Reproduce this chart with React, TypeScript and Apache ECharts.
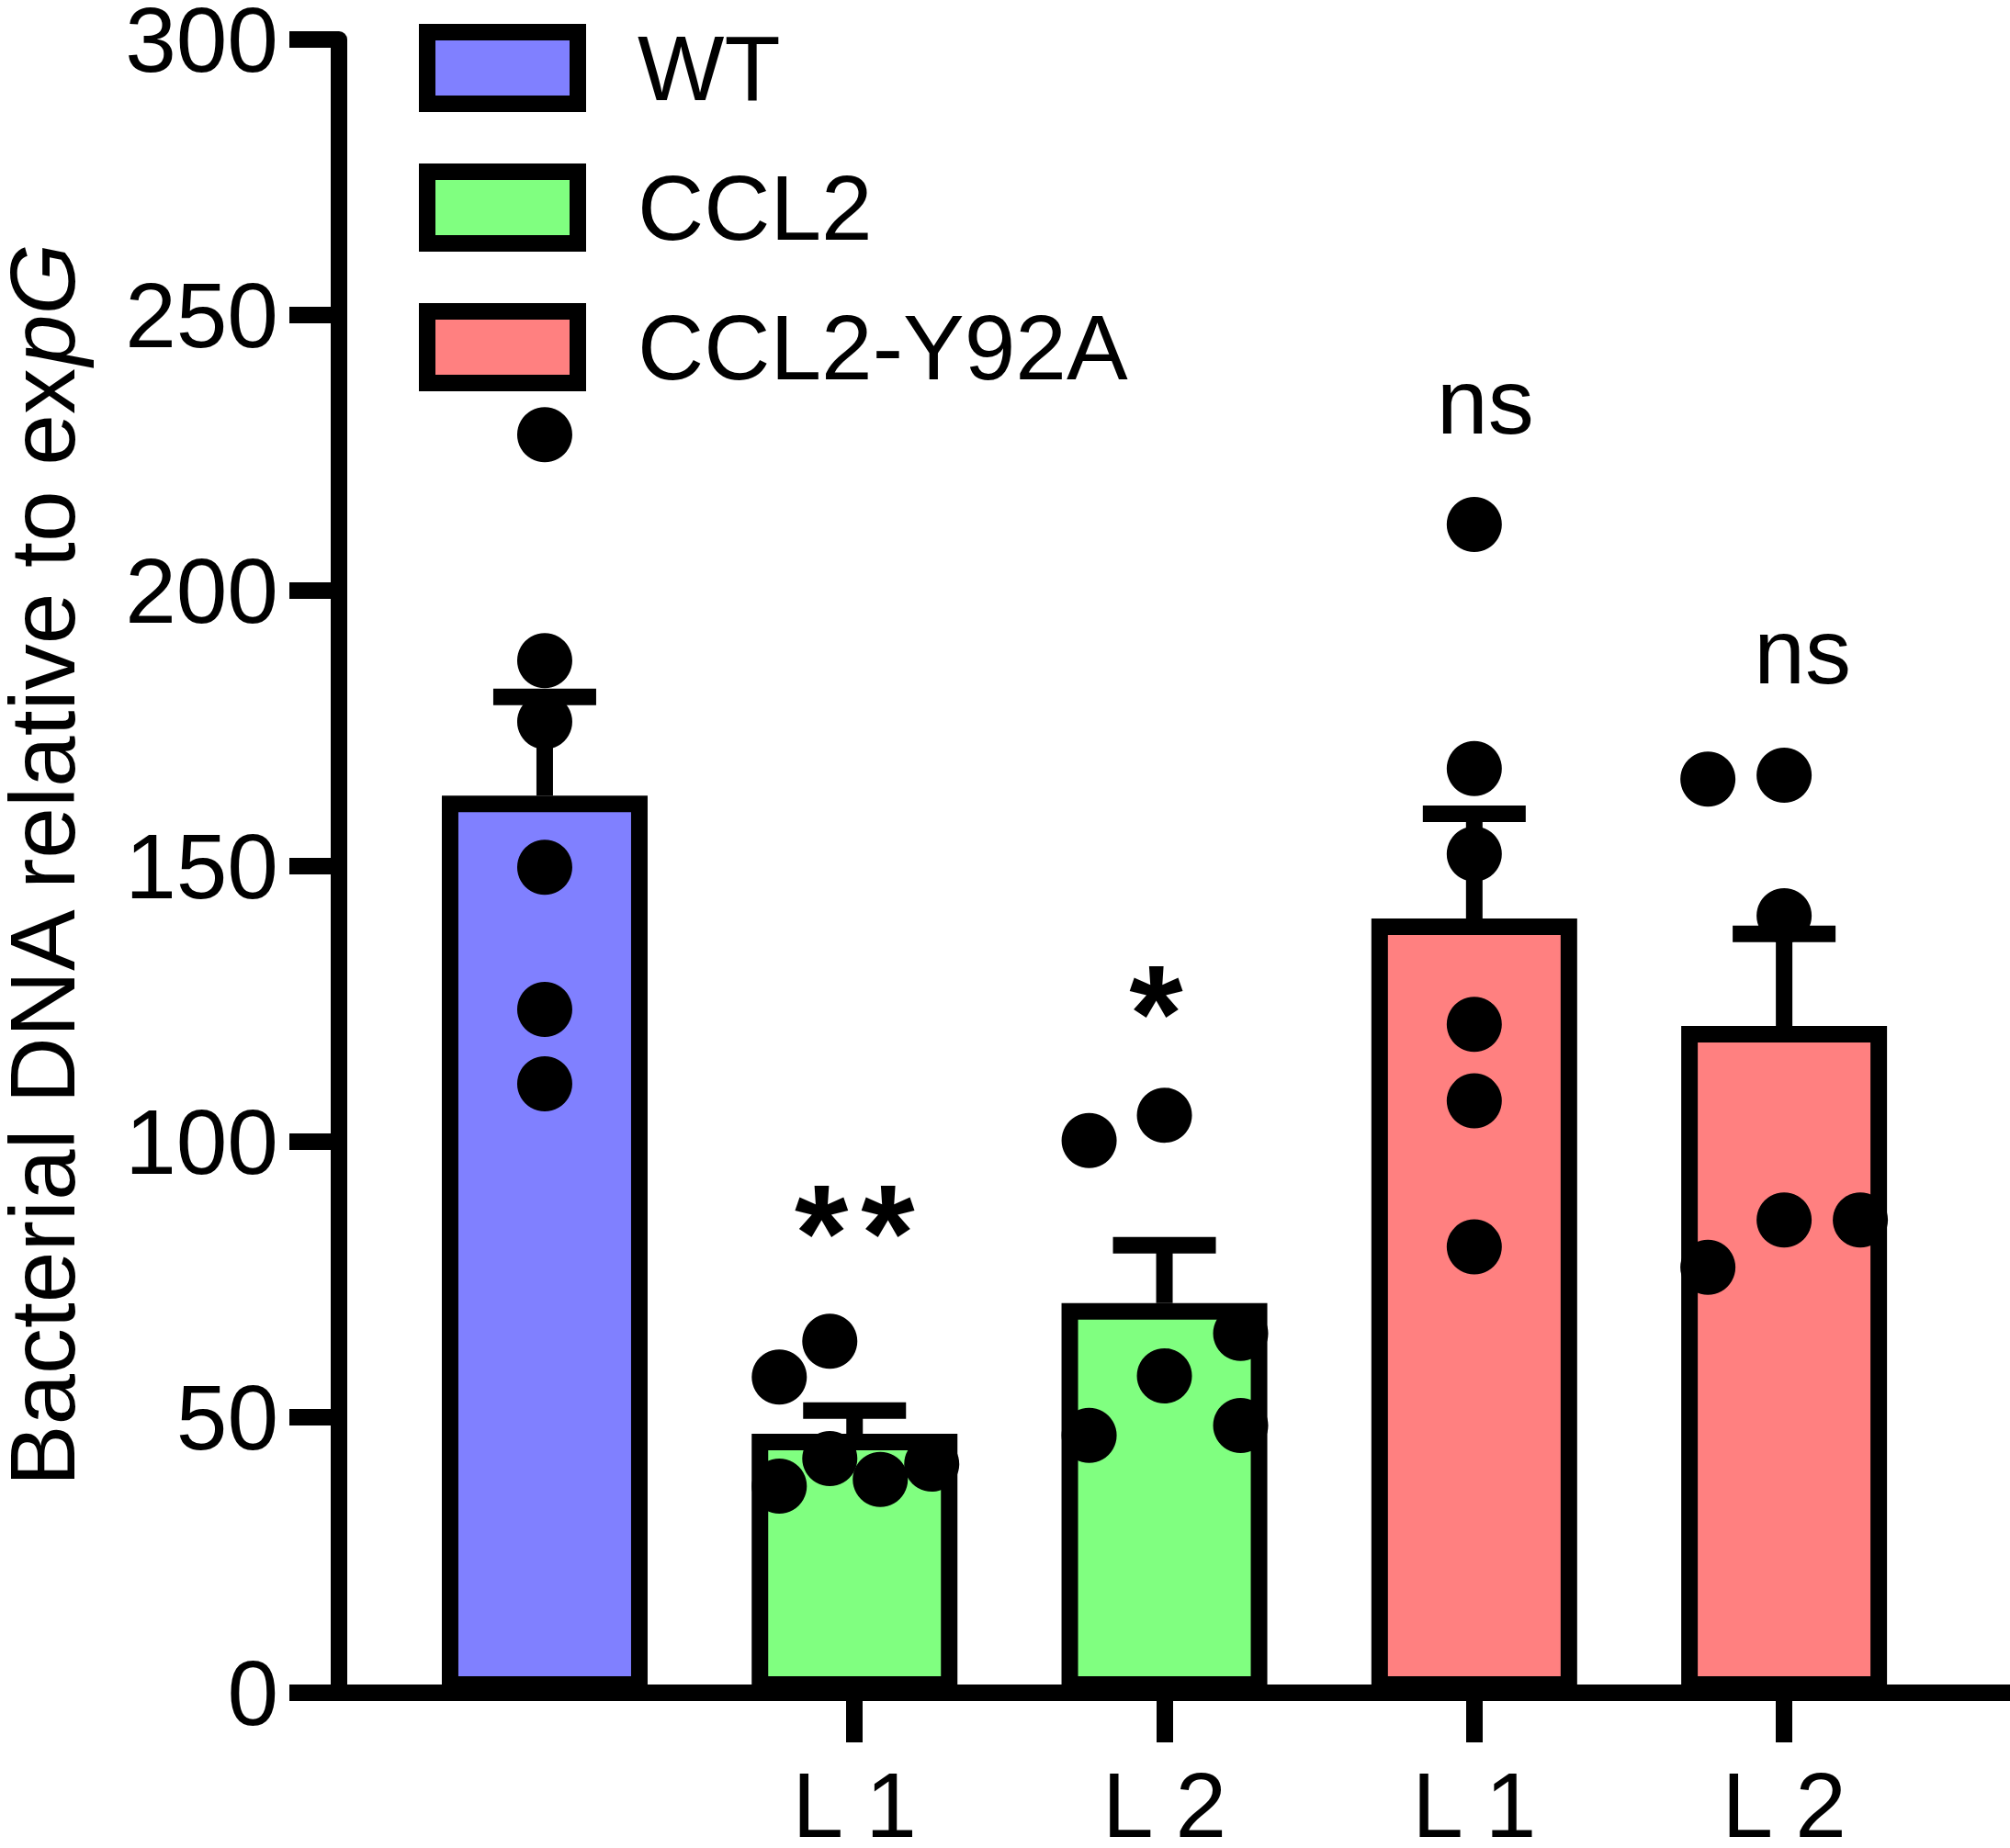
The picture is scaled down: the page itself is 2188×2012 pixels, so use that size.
import React, { useEffect, useRef } from 'react';
import * as echarts from 'echarts';

const FONT = 'Liberation Sans, Arial, Helvetica, sans-serif';

// group names and colours
const groupNames = ['WT', 'CCL2', 'CCL2-Y92A'];
const groupColors = ['#8080ff', '#80ff80', '#ff8080'];

// bar positions (x index), group membership, x tick labels
const barX = [0, 1, 2, 3, 4];
const barGroup = [0, 1, 1, 2, 2];
const xTickLabels = ['', 'L 1', 'L 2', 'L 1', 'L 2'];
const xTickValues = [1, 2, 3, 4];

// bar heights and upper error (SEM)
const barMeans = [162.8, 47.0, 70.7, 140.5, 121.0];
const barErrTop = [180.7, 51.2, 81.2, 159.5, 137.7];

// individual points per bar
const dotValues = [
  [228.3, 187.3, 176.2, 149.8, 124.0, 110.5],
  [57.3, 63.8, 37.5, 42.5, 38.7, 41.5],
  [100.2, 104.8, 46.7, 57.5, 65.2, 48.5],
  [212.0, 167.7, 152.2, 121.3, 107.4, 80.9],
  [165.8, 166.5, 141.0, 77.2, 85.8, 85.8],
];
// horizontal scatter of the points (in bar units)
const dotJitter = [
  [0, 0, 0, 0, 0, 0],
  [-0.243, -0.08, -0.243, -0.08, 0.083, 0.249],
  [-0.243, 0, -0.243, 0, 0.246, 0.246],
  [0, 0, 0, 0, 0, 0],
  [-0.246, 0, 0, -0.246, 0, 0.246],
];

// significance annotations
const sigLabels = ['', '**', '*', 'ns', 'ns'];
const sigY = [0, 83.3, 123.1, 234.4, 189.0];
const sigDx = [0, 0, -9, 12, 20];

// y axis
const yMin = 0;
const yMax = 300;
const yInterval = 50;

export default function App() {
  const ref = useRef<HTMLDivElement>(null);

  useEffect(() => {
    document.body.style.margin = '0';
    const chart = echarts.init(ref.current!, null, { renderer: 'svg' });

    const barSeries = groupNames.map((name, g) => ({
      type: 'bar',
      name,
      data: barX.filter((i) => barGroup[i] === g).map((i) => [barX[i], barMeans[i]]),
      barWidth: 224,
      barGap: '-100%',
      itemStyle: { color: groupColors[g], borderColor: '#000', borderWidth: 18 },
      z: 2,
      silent: true,
    }));

    const dots: number[][] = [];
    barX.forEach((x, i) => {
      dotValues[i].forEach((v, j) => dots.push([x + dotJitter[i][j], v]));
    });

    const sigData = barX
      .filter((i) => sigLabels[i] !== '')
      .map((i) => {
        const isStar = sigLabels[i].startsWith('*');
        return {
          value: [barX[i], sigY[i]],
          label: isStar
            ? {
                formatter: sigLabels[i].split('').map(() => '{s|*}').join(''),
                offset: [sigDx[i], 0],
                rich: {
                  s: {
                    fontSize: 150,
                    fontWeight: 'bold',
                    fontFamily: FONT,
                    color: '#000',
                    padding: [0, 7, 0, 7],
                  },
                },
              }
            : {
                formatter: sigLabels[i],
                fontSize: 100,
                fontFamily: FONT,
                color: '#000',
                offset: [sigDx[i], 0],
              },
        };
      });

    const option: any = {
      animation: false,
      backgroundColor: '#fff',
      grid: { left: 369, right: 0, top: 43, bottom: 169, containLabel: false, outerBoundsMode: 'none' },
      legend: {
        data: groupNames,
        orient: 'vertical',
        left: 456,
        top: 24,
        padding: 0,
        itemWidth: 164,
        itemHeight: 78,
        itemGap: 52,
        icon: 'rect',
        selectedMode: false,
        itemStyle: { borderColor: '#000', borderWidth: 18 },
        textStyle: {
          fontSize: 100,
          fontFamily: FONT,
          color: '#000',
          padding: [0, 0, 0, 60],
        },
      },
      xAxis: {
        type: 'value',
        min: -0.664,
        max: 4.729,
        splitLine: { show: false },
        axisLine: { show: true, onZero: false, lineStyle: { color: '#000', width: 18 } },
        axisTick: { show: true, customValues: xTickValues, length: 54, lineStyle: { color: '#000', width: 18 } },
        axisLabel: {
          show: true,
          customValues: xTickValues,
          formatter: (v: number) => xTickLabels[Math.round(v)],
          fontSize: 100,
          fontFamily: FONT,
          color: '#000',
          margin: 72,
        },
      },
      yAxis: {
        type: 'value',
        min: yMin,
        max: yMax,
        interval: yInterval,
        splitLine: { show: false },
        axisLine: { show: true, onZero: false, lineStyle: { color: '#000', width: 18 } },
        axisTick: { show: true, length: 54, lineStyle: { color: '#000', width: 18 } },
        axisLabel: { fontSize: 100, lineHeight: 80, fontFamily: FONT, color: '#000', margin: 66 },
        name: '{a|Bacterial DNA relative to ex}{b|pG}',
        nameLocation: 'middle',
        nameGap: 278,
        nameTextStyle: {
          fontSize: 100,
          lineHeight: 90,
          fontFamily: FONT,
          color: '#000',
          rich: {
            a: { fontSize: 100, lineHeight: 90, fontFamily: FONT, color: '#000' },
            b: { fontSize: 100, lineHeight: 90, fontFamily: FONT, color: '#000', fontStyle: 'italic' },
          },
        },
      },
      series: [
        ...barSeries,
        {
          type: 'custom',
          name: 'sem',
          silent: true,
          z: 3,
          encode: { x: 0, y: [1, 2] },
          data: barX.map((i) => [barX[i], barMeans[i], barErrTop[i]]),
          renderItem: (params: any, api: any) => {
            const b = api.coord([api.value(0), api.value(1)]);
            const t = api.coord([api.value(0), api.value(2)]);
            return {
              type: 'group',
              children: [
                { type: 'line', shape: { x1: b[0], y1: b[1], x2: t[0], y2: t[1] }, style: { stroke: '#000', lineWidth: 18 } },
                { type: 'line', shape: { x1: t[0] - 56, y1: t[1], x2: t[0] + 56, y2: t[1] }, style: { stroke: '#000', lineWidth: 18 } },
              ],
            };
          },
        },
        {
          type: 'scatter',
          name: 'points',
          silent: true,
          z: 4,
          symbol: 'circle',
          symbolSize: 60,
          itemStyle: { color: '#000', opacity: 1 },
          data: dots,
        },
        {
          type: 'scatter',
          name: 'sig',
          silent: true,
          z: 5,
          symbolSize: 1,
          itemStyle: { color: 'rgba(0,0,0,0)', opacity: 1 },
          label: { show: true, position: 'inside', align: 'center', verticalAlign: 'middle', color: '#000' },
          data: sigData,
        },
      ],
    };

    chart.setOption(option);
    return () => chart.dispose();
  }, []);

  return (
    <div
      ref={ref}
      style={{ position: 'absolute', left: 0, top: 0, width: 2188, height: 2012, background: '#fff' }}
    />
  );
}
